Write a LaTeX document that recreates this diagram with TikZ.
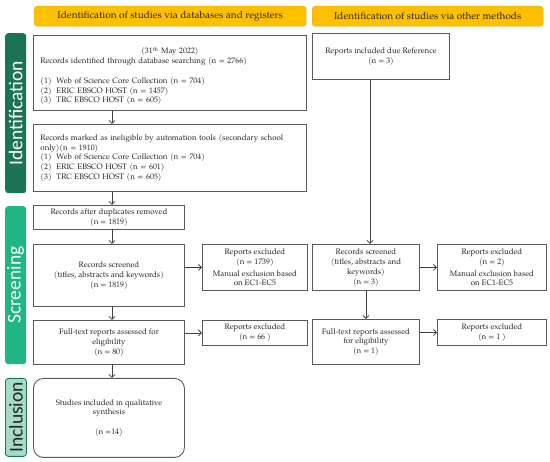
\documentclass[tikz,border=0pt]{standalone}
\usepackage{fontspec}
\setmainfont{TeX Gyre Pagella}
\newfontfamily\sidefont{Carlito}
\usetikzlibrary{arrows.meta}
\definecolor{gold}{HTML}{FFC000}
\definecolor{goldline}{HTML}{E3AC00}
\definecolor{idgreen}{HTML}{1B7453}
\definecolor{scgreen}{HTML}{20B585}
\definecolor{ingreen}{HTML}{A6DCC6}
\definecolor{boxline}{HTML}{5A5A5A}
\definecolor{arrowc}{HTML}{404040}
\tikzset{
 box/.style={draw=boxline, line width=0.9pt, fill=white, anchor=north west, inner sep=0pt, align=center, font=\fontsize{7.9}{9.8}\selectfont, text=black!85},
 hdr/.style={draw=goldline, fill=gold, rounded corners=3pt, anchor=north west, inner sep=0pt, font=\fontsize{10}{11}\selectfont, text=black!85},
 side/.style={rounded corners=3pt, anchor=north west, inner sep=0pt},
 sidetext/.style={rotate=90, font=\sidefont\fontsize{19.5}{19.5}\selectfont},
 arr/.style={draw=arrowc, line width=0.8pt, -{Straight Barb[length=3pt,width=6pt]}},
}
\begin{document}
\begin{tikzpicture}[x=1pt,y=-1pt]
\useasboundingbox (0,0) rectangle (550,462);
\fill[white] (0,0) rectangle (550,462);
% headers
\node[hdr, minimum width=272, minimum height=20] (h1) at (34,6) {Identification of studies via databases and registers};
\node[hdr, minimum width=231, minimum height=20] (h2) at (312,6) {Identification of studies via other methods};
% sidebars
\node[side, fill=idgreen, minimum width=21, minimum height=160] (sid) at (5,33) {};
\node[sidetext, text=white] (sidt) at (sid.center) {Identification};
\node[side, fill=scgreen, minimum width=21, minimum height=158] (ssc) at (5,206) {};
\node[sidetext, text=white] (ssct) at (ssc.center) {Screening};
\node[side, fill=ingreen, draw=idgreen, line width=0.8pt, minimum width=21, minimum height=78] (sin) at (5,378) {};
\node[sidetext, text=black!85] (sint) at (sin.center) {Inclusion};
% left column
\node[box, minimum width=273, minimum height=75, text width=259, align=left] (b1) at (33,35)
 {\makebox[\linewidth][c]{\rule{0pt}{13pt}(31\textsuperscript{th} May 2022)}\\
  Records identified through database searching (n = 2766)\\[9.8pt]
  \makebox[16pt][l]{(1)}Web of Science Core Collection (n = 704)\\
  \makebox[16pt][l]{(2)}ERIC EBSCO HOST (n = 1457)\\
  \makebox[16pt][l]{(3)}TRC EBSCO HOST (n = 605)};
\node[box, minimum width=273, minimum height=67, text width=259, align=left] (b2) at (33,124)
 {Records marked as ineligible by automation tools (secondary school\\
  only)(n = 1910)\\
  \makebox[16pt][l]{(1)}Web of Science Core Collection (n = 704)\\
  \makebox[16pt][l]{(2)}ERIC EBSCO HOST (n = 601)\\
  \makebox[16pt][l]{(3)}TRC EBSCO HOST (n = 605)};
\node[box, minimum width=151, minimum height=24] (dup) at (33,205) {Records after duplicates removed\\(n = 1819)};
\node[box, minimum width=151, minimum height=62] (scr) at (33,244) {Records screened\\(titles, abstracts and keywords)\\(n = 1819)};
\node[box, minimum width=105, minimum height=46] (ex1) at (202,244) {Reports excluded\\(n = 1739)\\[2pt]Manual exclusion based\\on EC1-EC5};
\node[box, minimum width=151, minimum height=44] (ful) at (33,320) {Full-text reports assessed for\\eligibility\\(n = 80)};
\node[box, minimum width=105, minimum height=25] (ex66) at (202,320) {Reports excluded\\(n = 66 )};
\node[box, rounded corners=10pt, minimum width=151, minimum height=79] (stu) at (33,378) {Studies included in qualitative\\synthesis\\[9.8pt](n =14)};
% right column
\node[box, minimum width=137, minimum height=46] (ref) at (312,33) {Reports included due Reference\\(n = 3)};
\node[box, minimum width=107, minimum height=46] (rscr) at (312,244) {Records screened\\(titles, abstracts and\\keywords)\\(n = 3)};
\node[box, minimum width=109, minimum height=46] (ex2) at (437,244) {Reports excluded\\(n = 2)\\[2pt]Manual exclusion based\\on EC1-EC5};
\node[box, minimum width=107, minimum height=45] (rful) at (312,319) {Full-text reports assessed\\for eligibility\\(n = 1)};
\node[box, minimum width=109, minimum height=26] (exr) at (437,319) {Reports excluded\\(n = 1 )};
% connectors
\coordinate (ax) at (112,0);
\coordinate (bx) at (370,0);
\draw[arr] (b1.south -| ax) -- (b2.north -| ax);
\draw[arr] (b2.south -| ax) -- (dup.north -| ax);
\draw[arr] (dup.south -| ax) -- (scr.north -| ax);
\draw[arr] (scr.south -| ax) -- (ful.north -| ax);
\draw[arr] (ful.south -| ax) -- (stu.north -| ax);
\draw[arr] (scr.east |- ex1.west) -- (ex1.west);
\draw[arr] (ful.east |- ex66.west) -- (ex66.west);
\draw[arr] (ref.south -| bx) -- (rscr.north -| bx);
\draw[arr] (rscr.south) -- (rful.north);
\draw[arr] (rscr.east |- ex2.west) -- (ex2.west);
\draw[arr] (rful.east |- exr.west) -- (exr.west);
\end{tikzpicture}
\end{document}
